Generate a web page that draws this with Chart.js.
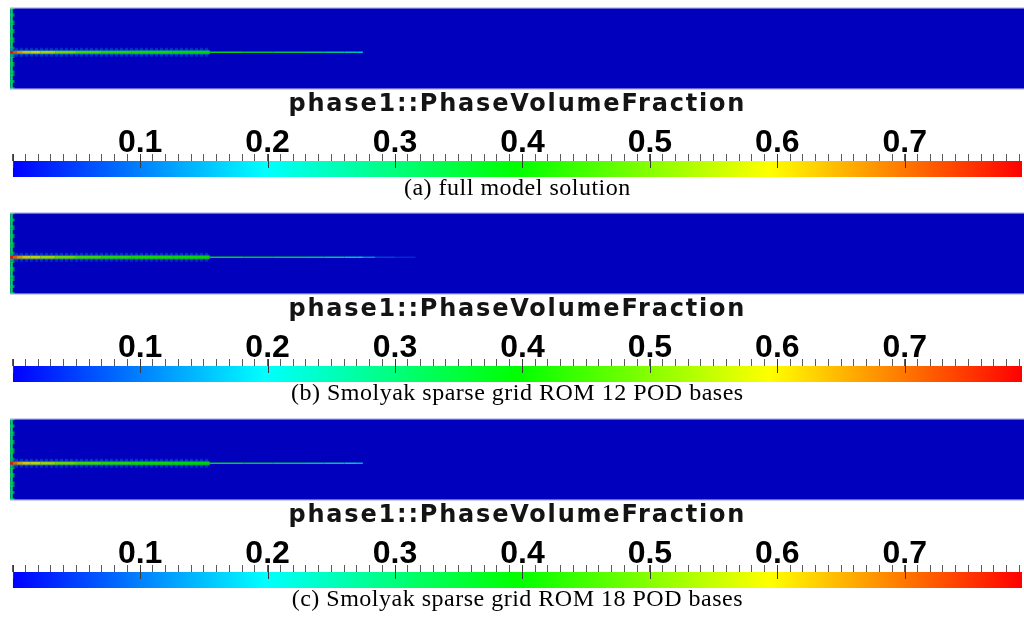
<!DOCTYPE html>
<html>
<head>
<meta charset="utf-8">
<title>phase1::PhaseVolumeFraction</title>
<script src="https://cdn.jsdelivr.net/npm/chart.js@4.4.1/dist/chart.umd.min.js"></script>
<style>
  html, body { margin: 0; padding: 0; background: #fff; }
  body { position: relative; width: 1024px; height: 620px; overflow: hidden; }
  canvas { position: absolute; display: block; }
</style>
</head>
<body>
<script>
// ---------------- data ----------------
const fieldName = 'phase1::PhaseVolumeFraction';
const captions = [
  '(a) full model solution',
  '(b) Smolyak sparse grid ROM 12 POD bases',
  '(c) Smolyak sparse grid ROM 18 POD bases'
];
const rangeMin = 0.0;
const rangeMax = 0.792;
const minorStep = 0.01;
const majorTicks = [0, 0.1, 0.2, 0.3, 0.4, 0.5, 0.6, 0.7];
const tickLabels = ['', '0.1', '0.2', '0.3', '0.4', '0.5', '0.6', '0.7'];
const backgroundValue = 0.0;

// jet centre line (domain coordinates 0..1)
const jetY = 0.455;
// thick near-inlet part of the jet
const coreX = [0, 0.003, 0.007, 0.012, 0.02, 0.03, 0.045, 0.065, 0.09, 0.12, 0.16, 0.197];
const coreA = [0.79, 0.74, 0.68, 0.63, 0.60, 0.57, 0.53, 0.48, 0.44, 0.42, 0.41, 0.40];
const coreB = [0.79, 0.73, 0.67, 0.62, 0.59, 0.56, 0.52, 0.47, 0.44, 0.42, 0.41, 0.40];
const coreC = [0.79, 0.73, 0.66, 0.62, 0.59, 0.56, 0.52, 0.47, 0.44, 0.42, 0.40, 0.39];
// thin downstream part of the jet
const tailXA = [0.197, 0.23, 0.26, 0.29, 0.31, 0.33, 0.343, 0.348];
const tailA  = [0.38, 0.37, 0.35, 0.32, 0.29, 0.25, 0.22, 0.18];
const tailXB = [0.197, 0.23, 0.26, 0.29, 0.31, 0.33, 0.343, 0.348, 0.36, 0.38, 0.40];
const tailB  = [0.38, 0.37, 0.35, 0.32, 0.29, 0.25, 0.22, 0.20, 0.08, 0.05, 0.03];
const tailXC = [0.197, 0.23, 0.26, 0.29, 0.31, 0.33, 0.343, 0.348];
const tailC  = [0.38, 0.36, 0.34, 0.31, 0.28, 0.24, 0.20, 0.16];
// inlet wall on the left
const wallX = 0.0015;
const wallY = [0, 0.1, 0.2, 0.3, 0.4, 0.5, 0.6, 0.7, 0.8, 0.9, 1];
const wallA = [0.30, 0.32, 0.30, 0.33, 0.31, 0.34, 0.31, 0.33, 0.30, 0.32, 0.30];
const wallB = [0.30, 0.32, 0.30, 0.33, 0.31, 0.34, 0.31, 0.33, 0.30, 0.32, 0.30];
const wallC = [0.30, 0.32, 0.30, 0.33, 0.31, 0.34, 0.31, 0.33, 0.30, 0.32, 0.30];

const panels = [
  { caption: captions[0], coreV: coreA, tailX: tailXA, tailV: tailA, wallV: wallA },
  { caption: captions[1], coreV: coreB, tailX: tailXB, tailV: tailB, wallV: wallB },
  { caption: captions[2], coreV: coreC, tailX: tailXC, tailV: tailC, wallV: wallC }
];

// ---------------- layout / style ----------------
const PANEL_OFFSET = [0, 205, 411];
const SHADE = 0.82;
const BG_SHADE = 0.74;
const AXIS_HEIGHT = 45;

function rainbow(v) {
  let t = (v - rangeMin) / (rangeMax - rangeMin);
  t = Math.max(0, Math.min(1, t));
  const h = 240 * (1 - t) / 60;
  const i = Math.min(4, Math.floor(h));
  const f = h - i;
  const q = 1 - f;
  let rgb;
  switch (i) {
    case 0: rgb = [1, f, 0]; break;
    case 1: rgb = [q, 1, 0]; break;
    case 2: rgb = [0, 1, f]; break;
    case 3: rgb = [0, q, 1]; break;
    default: rgb = [f, 0, 1];
  }
  return rgb.map(c => c * 255);
}
function css(rgb, k, a) {
  const r = Math.round(rgb[0] * k), g = Math.round(rgb[1] * k), b = Math.round(rgb[2] * k);
  return a === undefined ? `rgb(${r},${g},${b})` : `rgba(${r},${g},${b},${a})`;
}

function makeCanvas(left, top, w, h) {
  const c = document.createElement('canvas');
  c.width = w; c.height = h;
  c.style.left = left + 'px'; c.style.top = top + 'px';
  c.style.width = w + 'px'; c.style.height = h + 'px';
  document.body.appendChild(c);
  return c;
}

// background + frame of the field view
const fieldBgPlugin = {
  id: 'fieldBg',
  beforeDraw(chart) {
    const { ctx, chartArea: a } = chart;
    ctx.save();
    ctx.fillStyle = css(rainbow(backgroundValue), BG_SHADE);
    ctx.fillRect(a.left, a.top, a.right - a.left, a.bottom - a.top);
    ctx.restore();
  },
  afterDraw(chart) {
    const { ctx, chartArea: a } = chart;
    ctx.save();
    ctx.strokeStyle = '#cfcff0';
    ctx.lineWidth = 1.5;
    ctx.beginPath();
    ctx.moveTo(a.left, a.top + 0.75); ctx.lineTo(a.right, a.top + 0.75);
    ctx.moveTo(a.left, a.bottom - 0.75); ctx.lineTo(a.right, a.bottom - 0.75);
    ctx.stroke();
    ctx.restore();
  }
};

// long major ticks reaching into the colour bar
const majorTickPlugin = {
  id: 'majorTicks',
  afterDatasetsDraw(chart) {
    const { ctx, chartArea: a } = chart;
    const xs = chart.scales.x;
    ctx.save();
    ctx.strokeStyle = '#3a3a3a';
    ctx.lineWidth = 1;
    ctx.beginPath();
    majorTicks.forEach(v => {
      const x = Math.round(xs.getPixelForValue(v)) + 0.5;
      ctx.moveTo(x, a.top - 7);
      ctx.lineTo(x, a.top + 7);
    });
    ctx.stroke();
    ctx.restore();
  }
};

// letter spacing for title / caption text boxes
const letterSpacingPlugin = {
  id: 'letterSpacing',
  afterLayout(chart, args, opts) {
    chart.boxes.forEach(box => {
      if (box._lsWrapped || !box.options || typeof box.options.text !== 'string') return;
      const sp = box.position === 'bottom' ? opts.caption : opts.title;
      const orig = box.draw;
      box.draw = function (...a) {
        const ctx = this.ctx;
        const prev = ctx.letterSpacing;
        ctx.letterSpacing = sp + 'px';
        orig.apply(this, a);
        ctx.letterSpacing = prev || '0px';
      };
      box._lsWrapped = true;
    });
  }
};

function pts(xs, ys, vs) {
  return xs.map((x, i) => ({ x: x, y: Array.isArray(ys) ? ys[i] : ys, v: vs[i] }));
}
const segColor = (k, a) => ({ borderColor: s => css(rainbow((s.p0.raw.v + s.p1.raw.v) / 2), k, a) });
const haloColor = css(rainbow(0.13), 0.85, 0.5);
const haloColor2 = css(rainbow(0.11), 0.8, 0.4);

panels.forEach((p, idx) => {
  const off = PANEL_OFFSET[idx];

  // ---- field view ----  (lower "order" is drawn on top)
  const fc = makeCanvas(10, 7 + off, 1014, 83);
  new Chart(fc, {
    type: 'line',
    data: {
      datasets: [
        { order: 1, data: pts(coreX, jetY, p.coreV), borderWidth: 2.8,
          segment: segColor(SHADE), pointRadius: 0 },
        { order: 2, data: pts(p.tailX, jetY, p.tailV), borderWidth: 1.4,
          segment: segColor(SHADE), pointRadius: 0 },
        { order: 3, data: pts(coreX, jetY, p.coreV), borderWidth: 5,
          borderColor: haloColor, pointRadius: 0 },
        { order: 4, data: pts(coreX, jetY, p.coreV), borderWidth: 9, borderDash: [3, 2],
          borderColor: haloColor2, pointRadius: 0 },
        { order: 5, data: pts(wallY.map(() => wallX), wallY, p.wallV), borderWidth: 2.5,
          segment: segColor(0.82), pointRadius: 0 },
        { order: 6, data: pts(wallY.map(() => wallX), wallY, p.wallV), borderWidth: 6, borderDash: [3, 4],
          segment: segColor(0.75, 0.7), pointRadius: 0 }
      ]
    },
    options: {
      responsive: false, animation: false, events: [],
      layout: { padding: 0 },
      plugins: { legend: { display: false }, tooltip: { enabled: false } },
      elements: { line: { tension: 0, borderCapStyle: 'butt' }, point: { radius: 0 } },
      scales: {
        x: { type: 'linear', display: false, min: 0, max: 1 },
        y: { type: 'linear', display: false, min: 0, max: 1 }
      }
    },
    plugins: [fieldBgPlugin]
  });

  // ---- colour bar with title, ticks and caption ----
  const cc = makeCanvas(0, 91 + off, 1024, 110);
  new Chart(cc, {
    type: 'bar',
    data: {
      labels: [fieldName],
      datasets: [{
        data: [[rangeMin, rangeMax]],
        borderWidth: 0,
        barPercentage: 1,
        categoryPercentage: 1,
        backgroundColor: (c) => {
          const ch = c.chart;
          if (!ch.chartArea) return css(rainbow(rangeMin), 1);
          const xs = ch.scales.x;
          const x0 = xs.getPixelForValue(rangeMin), x1 = xs.getPixelForValue(rangeMax);
          const g = ch.ctx.createLinearGradient(x0, 0, x1, 0);
          for (let k = 0; k <= 48; k++) {
            const v = rangeMin + (rangeMax - rangeMin) * k / 48;
            g.addColorStop(k / 48, css(rainbow(v), 1));
          }
          return g;
        }
      }]
    },
    options: {
      indexAxis: 'y',
      responsive: false, animation: false, events: [],
      layout: { padding: { left: 12.7, right: 2, top: 0, bottom: 0 } },
      plugins: {
        legend: { display: false },
        tooltip: { enabled: false },
        title: {
          display: true, text: fieldName, color: '#141414',
          font: { family: 'DejaVu Sans', size: 24, weight: 'bold', lineHeight: 1 },
          padding: { top: 2, bottom: 0 }
        },
        subtitle: {
          display: true, position: 'bottom', text: p.caption, color: '#000',
          font: { family: 'Liberation Serif', size: 24, weight: 'normal', lineHeight: 1 },
          padding: { top: 0, bottom: 0 }
        },
        letterSpacing: { title: 1.8, caption: 0.5 }
      },
      scales: {
        x: {
          type: 'linear', position: 'top', min: rangeMin, max: rangeMax,
          border: { display: false },
          grid: { drawOnChartArea: false, drawTicks: true, tickLength: 7, color: '#5a5a5a', lineWidth: 1 },
          ticks: {
            stepSize: minorStep, autoSkip: false, includeBounds: false, maxRotation: 0, minRotation: 0,
            padding: -5, color: '#000',
            font: { family: 'Liberation Sans', size: 32, weight: 'bold', lineHeight: 1 },
            callback: (v) => {
              const i = majorTicks.findIndex(m => Math.abs(m - v) < 1e-6);
              return i >= 0 ? tickLabels[i] : '';
            }
          },
          afterFit: (scale) => { scale.height = AXIS_HEIGHT - 1; }
        },
        y: { display: false }
      }
    },
    plugins: [majorTickPlugin, letterSpacingPlugin]
  });
});
</script>
</body>
</html>
